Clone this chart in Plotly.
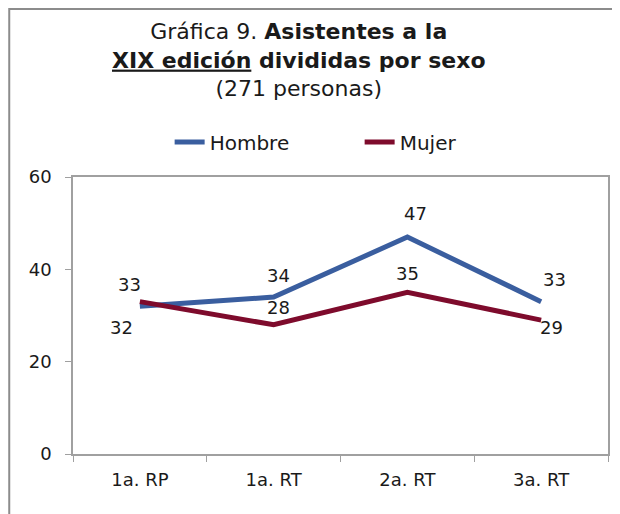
import plotly.graph_objects as go

categories = ["1a. RP", "1a. RT", "2a. RT", "3a. RT"]
hombre = [32, 34, 47, 33]
mujer = [33, 28, 35, 29]
series_names = ["Hombre", "Mujer"]

colors = {"Hombre": "#3A5E9F", "Mujer": "#7E0B2C"}
FONT = "DejaVu Sans"

W, H = 612, 506
ML, MR, MT, MB = 65, 10, 169, 60
PW, PH = W - ML - MR, H - MT - MB

def px_x(x):
    return (x - ML) / PW

def px_y(y):
    return 1 + (MT - y) / PH

# label offsets (pixels) per point
hombre_shift = [(-18, -21), (5, 22), (8, 24), (13, 22)]
mujer_shift = [(-10, 17), (5, 17), (0, 19), (10, -7)]

fig = go.Figure()
for name, vals in zip(series_names, [hombre, mujer]):
    fig.add_trace(go.Scatter(
        x=categories, y=vals, mode="lines", name=name,
        line=dict(color=colors[name], width=5),
        hoverinfo="skip",
    ))

annotations = []
for vals, shifts in [(hombre, hombre_shift), (mujer, mujer_shift)]:
    for c, v, (dx, dy) in zip(categories, vals, shifts):
        annotations.append(dict(
            x=c, y=v, xref="x", yref="y", text=str(v), showarrow=False,
            xshift=dx, yshift=dy, font=dict(size=18, color="#1a1a1a", family=FONT),
        ))

annotations.append(dict(
    text="Gráfica 9. <b>Asistentes a la</b><br><b><u>XIX edición</u> divididas por sexo</b><br>(271 personas)",
    x=px_x(292), y=px_y(9), xref="paper", yref="paper",
    xanchor="center", yanchor="top", showarrow=False, align="center",
    font=dict(size=22, family=FONT, color="#1a1a1a"),
))

fig.update_layout(
    width=W, height=H,
    margin=dict(l=ML, r=MR, t=MT, b=MB),
    paper_bgcolor="white", plot_bgcolor="white",
    font=dict(family=FONT, size=18, color="#1a1a1a"),
    showlegend=True,
    legend=dict(
        orientation="h", x=px_x(162), xanchor="left", y=px_y(134), yanchor="middle",
        font=dict(size=20, family=FONT), bgcolor="rgba(0,0,0,0)",
        entrywidth=145, entrywidthmode="pixels",
    ),
    xaxis=dict(
        type="category", range=[-0.5, 3.5], tickson="boundaries",
        ticks="outside", ticklen=6, tickcolor="#a0a0a0",
        showline=True, linecolor="#a0a0a0", linewidth=1.5, mirror=True,
        showgrid=False, zeroline=False, ticklabelstandoff=9,
    ),
    yaxis=dict(
        range=[0, 60], dtick=20, ticks="outside", ticklen=6, tickcolor="#a0a0a0",
        showline=True, linecolor="#a0a0a0", linewidth=1.5, mirror=True,
        showgrid=False, zeroline=False, ticklabelstandoff=10,
    ),
    annotations=annotations,
    shapes=[dict(
        type="rect", xref="paper", yref="paper",
        x0=px_x(1), x1=1.2, y0=-0.4, y1=px_y(1),
        line=dict(color="#8c8c8c", width=2), layer="below",
    )],
)

fig.write_html("out.html")
